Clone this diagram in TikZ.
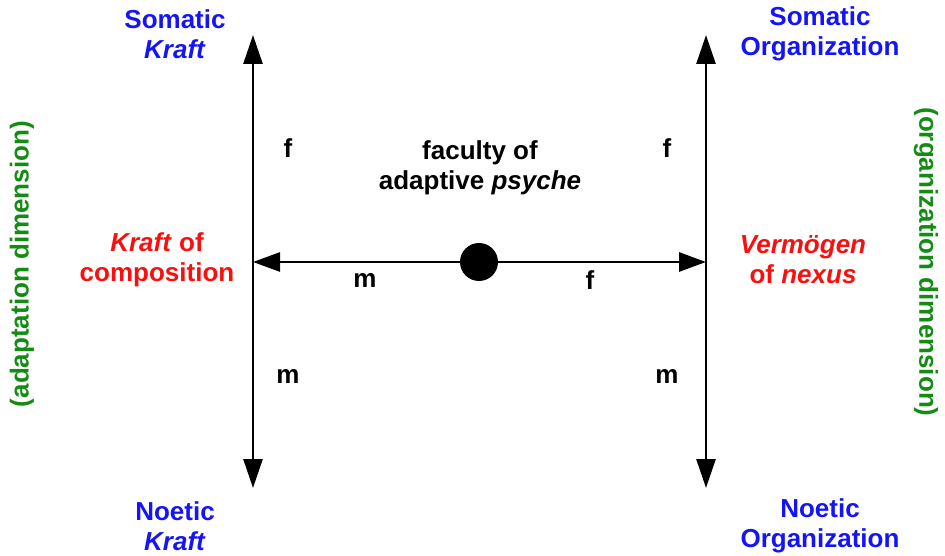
\documentclass[tikz,border=0pt]{standalone}
\usepackage{fontspec}
\setmainfont{Liberation Sans}
\usetikzlibrary{arrows.meta}
\definecolor{cblue}{RGB}{20,20,245}
\definecolor{cred}{RGB}{250,15,15}
\definecolor{cgreen}{RGB}{20,140,20}
\tikzset{
  lbl/.style={font=\fontsize{26}{30}\selectfont\bfseries, align=center, inner sep=0pt},
  bluelbl/.style={lbl, text=cblue},
  redlbl/.style={lbl, text=cred},
  greenlbl/.style={lbl, text=cgreen},
  blacklbl/.style={lbl, text=black},
  biaxis/.style={line width=2.8pt, {Triangle[length=29pt,width=19pt]}-{Triangle[length=29pt,width=19pt]}},
  hax/.style={line width=2.8pt, -{Triangle[length=27pt,width=19pt]}},
}
\begin{document}
\begin{tikzpicture}[x=1pt,y=-1pt]
\useasboundingbox (0,0) rectangle (945,556);
% coordinates
\coordinate (LT) at (253,35);
\coordinate (LB) at (253,488);
\coordinate (RT) at (706,35);
\coordinate (RB) at (706,488);
\coordinate (LM) at (253,262);
\coordinate (RM) at (706,262);
\node[circle, fill=black, minimum size=38pt, inner sep=0pt] (dot) at (479,262) {};
% axes
\draw[biaxis] (LB) -- (LT);
\draw[biaxis] (RB) -- (RT);
\draw[hax] (dot) -- (LM);
\draw[hax] (dot) -- (RM);
% corner labels
\node[bluelbl] (sk) at (175,34) {Somatic\\\textit{Kraft}};
\node[bluelbl] (so) at (820,34) {Somatic\\Organization};
\node[bluelbl] (nk) at (175,526) {Noetic\\\textit{Kraft}};
\node[bluelbl] (no) at (820,526) {Noetic\\Organization};
% middle labels
\node[redlbl] (kc) at (157,260) {\textit{Kraft} of\\composition};
\node[redlbl] (vn) at (803,260) {\textit{Vermögen}\\of \textit{nexus}};
\node[blacklbl] (fap) at (480,168) {faculty of\\adaptive \textit{psyche}};
% f/m labels
\node[blacklbl] (f1) at (288,148) {f};
\node[blacklbl] (f2) at (667,148) {f};
\node[blacklbl] (m1) at (288,376) {m};
\node[blacklbl] (m2) at (667,376) {m};
\node[blacklbl] (m3) at (365,280) {m};
\node[blacklbl] (f3) at (590,280) {f};
% side labels
\node[greenlbl, rotate=90] (ad) at (22,264) {(adaptation dimension)};
\node[greenlbl, rotate=-90] (od) at (926,262) {(organization dimension)};
\end{tikzpicture}
\end{document}
